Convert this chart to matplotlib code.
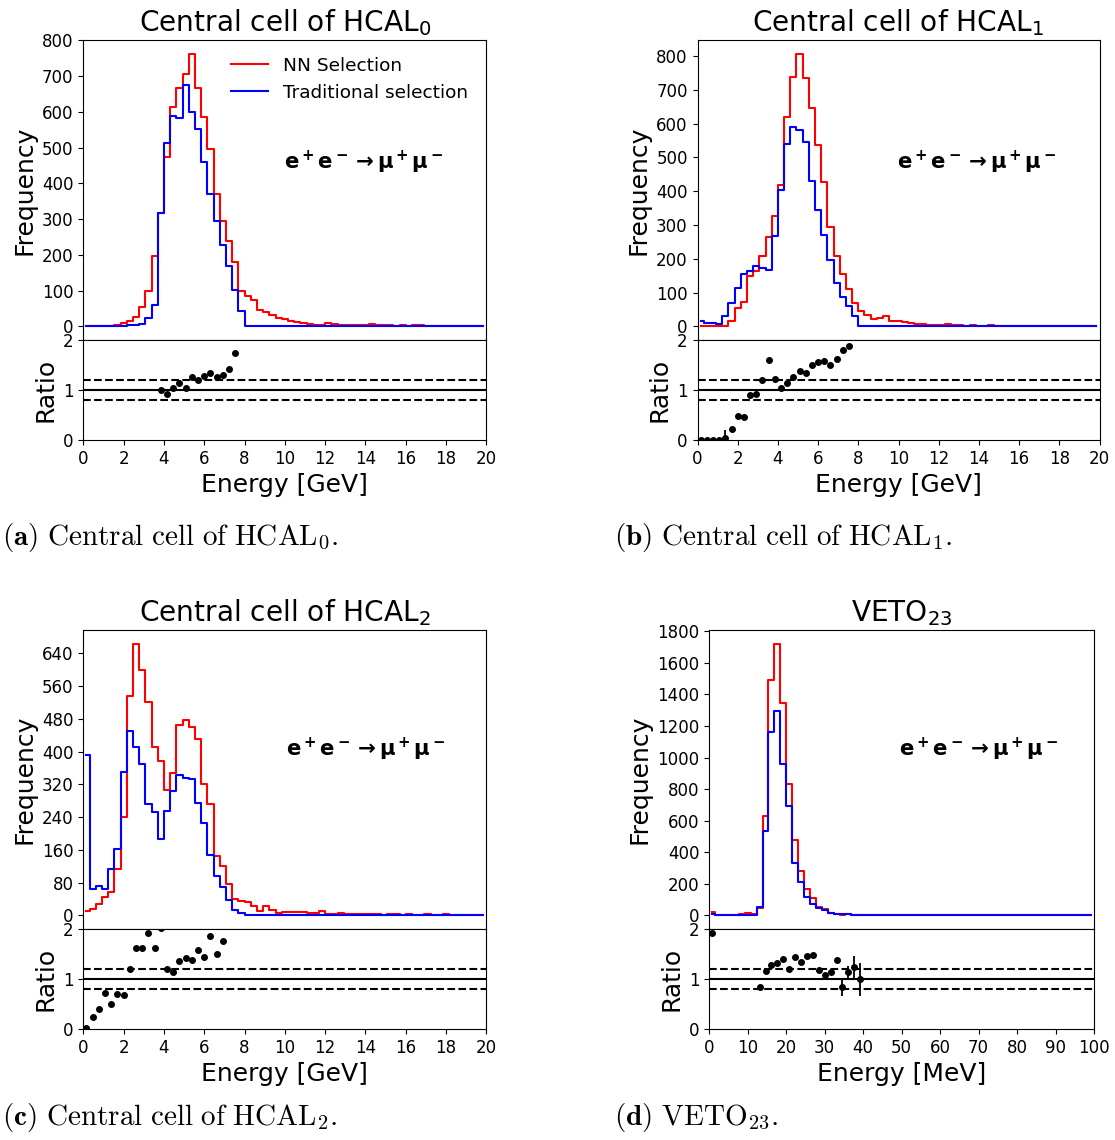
import numpy as np
import matplotlib
matplotlib.use("Agg")
import matplotlib.pyplot as plt
from matplotlib.ticker import MultipleLocator

N_BINS = 65

# ---------------- data (counts per bin) ----------------
hcal0_nn = [0, 0, 0, 0, 0, 5, 9, 16, 26, 53, 98, 196, 316, 475, 615, 666, 707, 763, 666, 587,
            495, 371, 296, 240, 179, 98, 84, 73, 47, 39, 32, 23, 20, 16, 13, 10, 8, 5, 5, 10,
            6, 5, 4, 4, 3, 3, 6, 3, 3, 3, 2, 3, 2, 3, 4, 2, 2, 1, 2, 1, 1, 2, 1, 1, 1]
hcal0_trad = [0, 0, 0, 0, 0, 0, 0, 3, 5, 7, 22, 61, 316, 514, 589, 584, 676, 601, 551, 460,
              369, 296, 229, 170, 103, 42, 0, 0, 0, 0, 0, 0, 0, 0, 0, 0, 0, 0, 0, 0,
              0, 0, 0, 0, 0, 0, 0, 0, 0, 0, 0, 0, 0, 0, 0, 0, 0, 0, 0, 0, 0, 0, 0, 0, 0]

hcal1_nn = [0, 0, 0, 0, 1, 15, 54, 71, 148, 163, 207, 264, 326, 418, 619, 739, 807, 735, 645, 538,
            427, 293, 207, 156, 111, 69, 44, 35, 22, 25, 32, 15, 15, 12, 10, 8, 7, 5, 5, 4,
            6, 3, 3, 2, 4, 2, 2, 3, 2, 2, 1, 2, 1, 1, 2, 1, 1, 1, 2, 1, 1, 1, 1, 1, 1]
hcal1_trad = [17, 10, 10, 8, 32, 69, 113, 156, 165, 178, 172, 166, 267, 403, 540, 591, 582, 546, 431, 345,
              271, 195, 128, 87, 59, 32, 0, 0, 0, 0, 0, 0, 0, 0, 0, 0, 0, 0, 0, 0,
              0, 0, 0, 0, 0, 0, 0, 0, 0, 0, 0, 0, 0, 0, 0, 0, 0, 0, 0, 0, 0, 0, 0, 0, 0]

hcal2_nn = [10, 15, 28, 46, 58, 113, 240, 536, 664, 600, 522, 412, 377, 306, 349, 466, 477, 461, 431, 322,
            272, 146, 121, 77, 40, 34, 32, 22, 10, 22, 14, 6, 8, 9, 9, 8, 5, 5, 10, 4,
            4, 6, 3, 3, 3, 4, 3, 3, 2, 3, 3, 2, 4, 2, 2, 3, 2, 1, 3, 2, 1, 2, 1, 2, 1]
hcal2_trad = [391, 64, 71, 64, 114, 162, 351, 450, 412, 371, 272, 253, 186, 255, 304, 343, 336, 333, 274, 225,
              147, 97, 69, 37, 12, 7, 0, 0, 0, 0, 0, 0, 0, 0, 0, 0, 0, 0, 0, 0,
              0, 0, 0, 0, 0, 0, 0, 0, 0, 0, 0, 0, 0, 0, 0, 0, 0, 0, 0, 0, 0, 0, 0, 0, 0]

veto_nn = [23, 2, 2, 2, 3, 10, 14, 12, 44, 627, 1491, 1722, 1347, 832, 478, 284, 170, 109, 54, 39,
           17, 11, 5, 8, 5, 3, 0, 0, 0, 0, 0, 0, 0, 0, 0, 0, 0, 0, 0, 0,
           0, 0, 0, 0, 0, 0, 0, 0, 0, 0, 0, 0, 0, 0, 0, 0, 0, 0, 0, 0, 0, 0, 0, 0, 0]
veto_trad = [12, 0, 0, 0, 0, 0, 0, 0, 53, 537, 1162, 1295, 958, 695, 333, 211, 116, 74, 46, 36,
             15, 8, 6, 7, 4, 3, 0, 0, 0, 0, 0, 0, 0, 0, 0, 0, 0, 0, 0, 0,
             0, 0, 0, 0, 0, 0, 0, 0, 0, 0, 0, 0, 0, 0, 0, 0, 0, 0, 0, 0, 0, 0, 0, 0, 0]

# visible ratio error bars (bin index -> half length)
hcal1_ratio_err = {4: 0.17}
veto_ratio_err = {22: 0.18, 23: 0.12, 24: 0.22, 25: 0.33}

titles = [r"Central cell of HCAL$_0$", r"Central cell of HCAL$_1$",
          r"Central cell of HCAL$_2$", r"VETO$_{23}$"]
xlabels = ["Energy [GeV]", "Energy [GeV]", "Energy [GeV]", "Energy [MeV]"]
x_max = [20, 20, 20, 100]
captions = [r"$\mathbf{(a)}\ \mathrm{Central\ cell\ of\ HCAL}_{0}.$",
            r"$\mathbf{(b)}\ \mathrm{Central\ cell\ of\ HCAL}_{1}.$",
            r"$\mathbf{(c)}\ \mathrm{Central\ cell\ of\ HCAL}_{2}.$",
            r"$\mathbf{(d)}\ \mathrm{VETO}_{23}.$"]
process_label = r"$\mathbf{e^+e^-\rightarrow\mu^+\mu^-}$"

# ---------------- layout (pixels) ----------------
W, H = 1115, 1140
boxes = [(83.3, 486.3, 40, 340, 440),
         (697.5, 1099.5, 40, 340, 440),
         (83.3, 486.3, 630, 929, 1029),
         (709.3, 1094.0, 630, 929, 1029)]
ysteps = [100, 100, 80, 200]
xsteps = [2, 2, 2, 10]
caption_pos = [(2, 545), (614, 545), (2, 1125), (614, 1125)]
text_pos = [(0.695, 0.593), (0.695, 0.593), (0.70, 0.60), (0.70, 0.60)]

data = [(hcal0_nn, hcal0_trad, {}), (hcal1_nn, hcal1_trad, hcal1_ratio_err),
        (hcal2_nn, hcal2_trad, {}), (veto_nn, veto_trad, veto_ratio_err)]

fig = plt.figure(figsize=(W / 100, H / 100), dpi=100)

for i in range(4):
    nn, tr, errs = data[i]
    nn = np.asarray(nn, float)
    tr = np.asarray(tr, float)
    x0, x1, yt, ym, yb = boxes[i]
    ax = fig.add_axes([x0 / W, 1 - ym / H, (x1 - x0) / W, (ym - yt) / H])
    axr = fig.add_axes([x0 / W, 1 - yb / H, (x1 - x0) / W, (yb - ym) / H])

    edges = np.linspace(0, x_max[i], N_BINS + 1)
    centers = 0.5 * (edges[:-1] + edges[1:])

    ax.step(centers, nn, where="mid", color="red", lw=1.5, label="NN Selection")
    ax.step(centers, tr, where="mid", color="blue", lw=1.5, label="Traditional selection")
    ax.set_xlim(0, x_max[i])
    ax.yaxis.set_major_locator(MultipleLocator(ysteps[i]))
    ax.tick_params(axis="x", bottom=False, labelbottom=False)
    ax.tick_params(axis="y", labelsize=12)
    ax.set_ylabel("Frequency", fontsize=18)
    ax.set_title(titles[i], fontsize=20.2)
    ax.text(text_pos[i][0], text_pos[i][1], process_label, transform=ax.transAxes,
            ha="center", va="center", fontsize=15.3)
    if i == 0:
        ax.legend(loc="upper right", frameon=False, fontsize=13.3,
                  bbox_to_anchor=(0.995, 1.0))

    with np.errstate(divide="ignore", invalid="ignore"):
        ratio = np.where(tr > 0, nn / np.where(tr > 0, tr, 1), np.nan)
    yerr = np.zeros(N_BINS)
    for k, v in errs.items():
        yerr[k] = v
    axr.errorbar(centers, ratio, yerr=yerr, fmt="o", color="black", ms=4,
                 elinewidth=1.3, capsize=0)
    axr.axhline(1.0, color="black", lw=1.5)
    axr.axhline(1.2, color="black", lw=1.5, ls="--")
    axr.axhline(0.8, color="black", lw=1.5, ls="--")
    axr.set_xlim(0, x_max[i])
    axr.set_ylim(0, 2)
    axr.set_yticks([0, 1, 2])
    axr.xaxis.set_major_locator(MultipleLocator(xsteps[i]))
    axr.tick_params(labelsize=12)
    axr.set_ylabel("Ratio", fontsize=18)
    axr.set_xlabel(xlabels[i], fontsize=18)

    cx, cy = caption_pos[i]
    fig.text(cx / W, 1 - cy / H, captions[i], fontsize=21, math_fontfamily="cm",
             ha="left", va="baseline")

fig.savefig("out.png", dpi=100)
